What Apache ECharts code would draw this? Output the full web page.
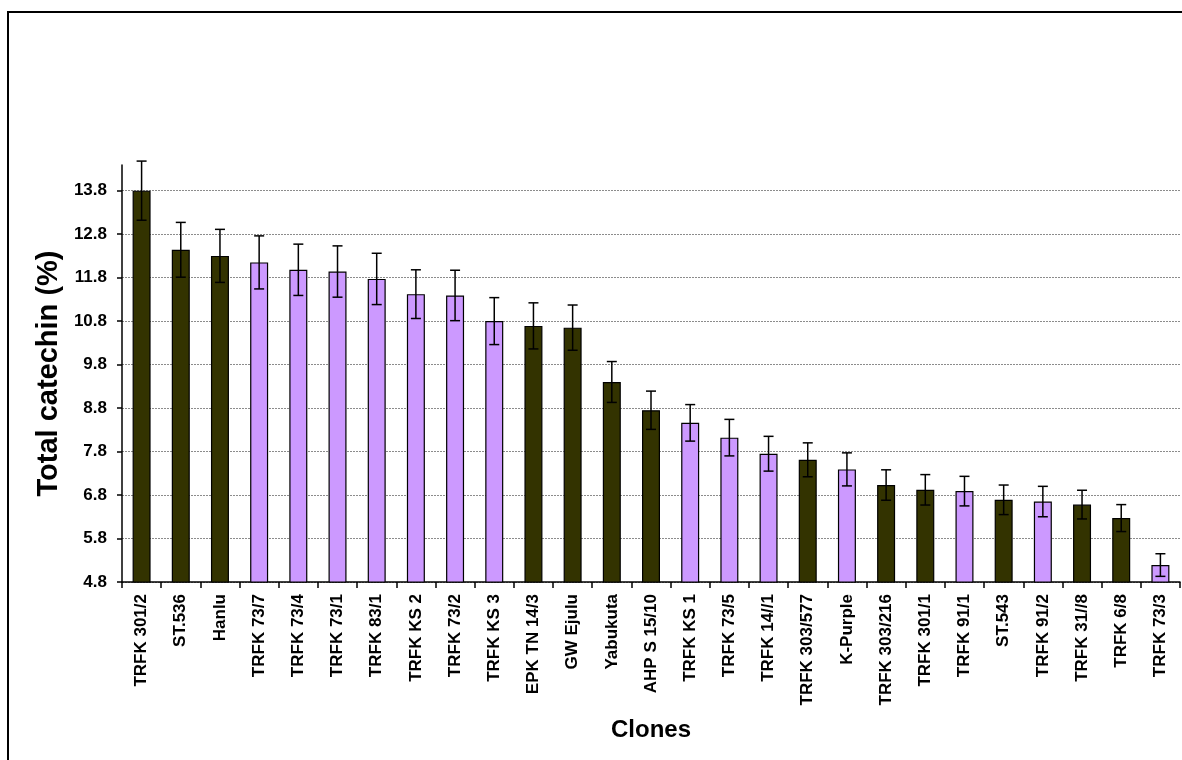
<!DOCTYPE html>
<html>
<head>
<meta charset="utf-8">
<script src="https://cdn.jsdelivr.net/npm/echarts@6/dist/echarts.min.js"></script>
<style>
  html, body { margin: 0; padding: 0; background: #ffffff; }
  #chart { width: 1182px; height: 760px; }
</style>
</head>
<body>
<div id="chart"></div>
<script>
// ---- Data ----
const categories = [
  'TRFK 301/2', 'ST.536', 'Hanlu', 'TRFK 73/7', 'TRFK 73/4', 'TRFK 73/1', 'TRFK 83/1',
  'TRFK KS 2', 'TRFK 73/2', 'TRFK KS 3', 'EPK TN 14/3', 'GW Ejulu', 'Yabukuta',
  'AHP S 15/10', 'TRFK KS 1', 'TRFK 73/5', 'TRFK 14//1', 'TRFK 303/577', 'K-Purple',
  'TRFK 303/216', 'TRFK 301/1', 'TRFK 91/1', 'ST.543', 'TRFK 91/2', 'TRFK 31//8',
  'TRFK 6/8', 'TRFK 73/3'
];
const values = [
  13.80, 12.44, 12.30, 12.15, 11.98, 11.94, 11.77, 11.42, 11.39, 10.80, 10.69, 10.65, 9.40,
  8.75, 8.46, 8.12, 7.75, 7.61, 7.39, 7.03, 6.92, 6.89, 6.69, 6.65, 6.58, 6.27, 5.19
];
const errors = [
  0.68, 0.63, 0.61, 0.61, 0.59, 0.59, 0.59, 0.56, 0.58, 0.54, 0.53, 0.52, 0.47,
  0.44, 0.42, 0.42, 0.40, 0.39, 0.38, 0.35, 0.35, 0.34, 0.34, 0.35, 0.33, 0.31, 0.26
];
const groups = [
  'dark', 'dark', 'dark', 'purple', 'purple', 'purple', 'purple', 'purple', 'purple', 'purple',
  'dark', 'dark', 'dark', 'dark', 'purple', 'purple', 'purple', 'dark', 'purple', 'dark',
  'dark', 'purple', 'dark', 'purple', 'dark', 'dark', 'purple'
];
const yTicks = [4.8, 5.8, 6.8, 7.8, 8.8, 9.8, 10.8, 11.8, 12.8, 13.8];
const yMin = 4.8;
const yMax = 14.39;

// ---- Styles ----
const groupColors = { dark: '#333300', purple: '#CC99FF' };
const FONT = 'Liberation Sans, Arial, sans-serif';

const barData = values.map((v, i) => ({
  value: v,
  itemStyle: { color: groupColors[groups[i]] }
}));
const errData = values.map((v, i) => [i, v - errors[i], v + errors[i]]);

const chart = echarts.init(document.getElementById('chart'), null, { renderer: 'canvas' });

chart.setOption({
  animation: false,
  backgroundColor: '#ffffff',
  graphic: [{
    type: 'rect',
    shape: { x: 8, y: 12, width: 1400, height: 1000 },
    style: { fill: 'none', stroke: '#000000', lineWidth: 2 },
    silent: true,
    z: 0
  }],
  grid: { left: 122, right: 2, top: 165, bottom: 178, containLabel: false },
  xAxis: {
    type: 'category',
    data: categories,
    name: 'Clones',
    nameLocation: 'middle',
    nameGap: 136,
    nameTextStyle: { fontFamily: FONT, fontWeight: 'bold', fontSize: 24, color: '#000' },
    axisLine: { show: true, lineStyle: { color: '#000', width: 1.5 } },
    axisTick: { show: true, alignWithLabel: false, length: 6, inside: false, lineStyle: { color: '#000', width: 1.5 } },
    axisLabel: {
      rotate: 90,
      interval: 0,
      margin: 12,
      fontFamily: FONT,
      fontWeight: 'bold',
      fontSize: 17,
      color: '#000'
    },
    splitLine: { show: false }
  },
  yAxis: {
    type: 'value',
    min: yMin,
    max: yMax,
    name: 'Total catechin (%)',
    nameLocation: 'middle',
    nameGap: 58,
    nameTextStyle: { fontFamily: FONT, fontWeight: 'bold', fontSize: 29, color: '#000' },
    axisLine: { show: true, lineStyle: { color: '#000', width: 1.5 } },
    axisTick: { show: true, length: 5, customValues: yTicks, lineStyle: { color: '#000', width: 1.5 } },
    axisLabel: {
      customValues: yTicks,
      margin: 15,
      fontFamily: FONT,
      fontWeight: 'bold',
      fontSize: 17,
      color: '#000',
      formatter: v => Number(v).toFixed(1)
    },
    splitLine: { show: true, lineStyle: { color: '#8c8c8c', width: 1, type: [2, 1] } }
  },
  series: [
    {
      type: 'bar',
      data: barData,
      barWidth: 18,
      itemStyle: { borderColor: '#000', borderWidth: 1.2 },
      z: 2
    },
    {
      type: 'custom',
      data: errData,
      z: 3,
      clip: false,
      renderItem: function (params, api) {
        const x = api.value(0);
        const lo = api.coord([x, api.value(1)]);
        const hi = api.coord([x, api.value(2)]);
        const hw = 5;
        const st = { stroke: '#000', lineWidth: 1.5 };
        return {
          type: 'group',
          children: [
            { type: 'line', shape: { x1: hi[0], y1: hi[1], x2: lo[0], y2: lo[1] }, style: st },
            { type: 'line', shape: { x1: hi[0] - hw, y1: hi[1], x2: hi[0] + hw, y2: hi[1] }, style: st },
            { type: 'line', shape: { x1: lo[0] - hw, y1: lo[1], x2: lo[0] + hw, y2: lo[1] }, style: st }
          ]
        };
      }
    }
  ]
});
</script>
</body>
</html>
